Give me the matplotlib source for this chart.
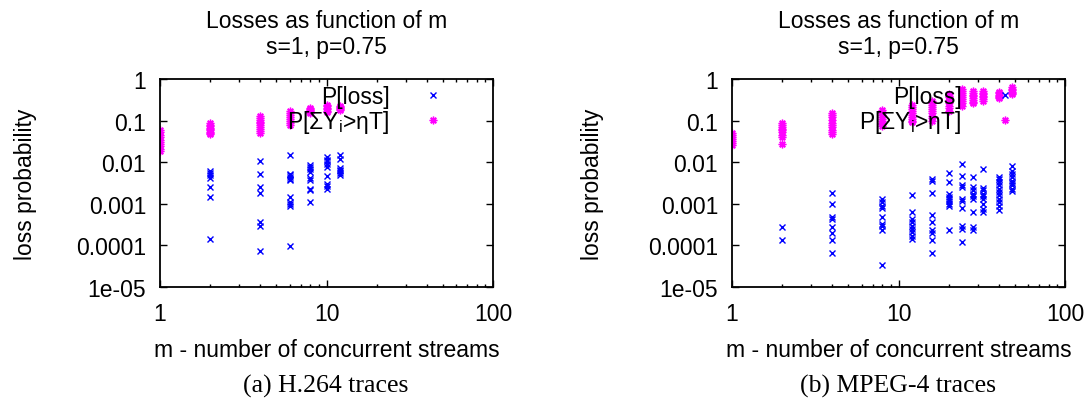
import matplotlib
matplotlib.use("Agg")
import matplotlib.pyplot as plt
from matplotlib.ticker import LogLocator, NullFormatter

plt.rcParams['font.family'] = ['Liberation Sans', 'DejaVu Sans']
plt.rcParams['mathtext.fontset'] = 'custom'
plt.rcParams['mathtext.rm'] = 'Liberation Sans'
plt.rcParams['mathtext.it'] = 'Liberation Sans'

# ---------------- data ----------------
h264_m = [1, 2, 4, 6, 8, 10, 12]
h264_loss = [
    [],
    [0.0063, 0.0056, 0.0048, 0.0042, 0.0025, 0.00145, 0.000145],
    [0.0105, 0.0052, 0.0025, 0.0018, 0.00036, 0.00029, 0.000073],
    [0.0145, 0.0053, 0.0048, 0.0044, 0.004, 0.0037, 0.00145, 0.0011, 0.001, 0.00091, 0.000097],
    [0.0087, 0.0076, 0.0069, 0.0058, 0.0042, 0.0037, 0.0023, 0.0021, 0.0011],
    [0.0132, 0.0116, 0.0105, 0.0092, 0.0076, 0.0047, 0.003, 0.0027, 0.0023],
    [0.015, 0.012, 0.0072, 0.0066, 0.006, 0.0055, 0.0048],
]
h264_sum = [
    [0.06, 0.052, 0.045, 0.04, 0.035, 0.03, 0.027, 0.024, 0.021, 0.019],
    [0.088, 0.08, 0.074, 0.068, 0.063, 0.058, 0.054, 0.05, 0.047],
    [0.13, 0.118, 0.105, 0.095, 0.087, 0.078, 0.07, 0.063, 0.056, 0.05],
    [0.17, 0.155, 0.14, 0.125, 0.11, 0.1, 0.09, 0.08],
    [0.2, 0.19, 0.18, 0.17, 0.16, 0.15],
    [0.24, 0.22, 0.2, 0.185, 0.17, 0.157],
    [0.23, 0.215, 0.2, 0.19, 0.18],
]

mpeg4_m = [1, 2, 4, 8, 12, 16, 20, 24, 28, 32, 40, 48]
mpeg4_loss = [
    [],
    [0.00027, 0.000133],
    [0.00185, 0.001, 0.00048, 0.00043, 0.00027, 0.0002, 0.000133, 0.000066],
    [0.0013, 0.0011, 0.00089, 0.00079, 0.00048, 0.00033, 0.0003, 0.00024, 0.000033],
    [0.0016, 0.00063, 0.00044, 0.00037, 0.0003, 0.00025, 0.00021, 0.00017, 0.000145],
    [0.004, 0.0036, 0.00185, 0.00053, 0.00037, 0.00023, 0.0002, 0.000133, 0.000067],
    [0.0055, 0.0033, 0.0017, 0.00145, 0.0013, 0.00115, 0.001, 0.00087, 0.00023],
    [0.0091, 0.0047, 0.0028, 0.0025, 0.0013, 0.0012, 0.00081, 0.0003, 0.00025, 0.00012],
    [0.0044, 0.0025, 0.0021, 0.0017, 0.0015, 0.0013, 0.00063, 0.00028, 0.00023],
    [0.0069, 0.0024, 0.0021, 0.0017, 0.0015, 0.0013, 0.00097, 0.00074, 0.00063],
    [0.0044, 0.0039, 0.0033, 0.0028, 0.0023, 0.0019, 0.0016, 0.0013, 0.0011, 0.00089, 0.0007],
    [0.0081, 0.0063, 0.0053, 0.0044, 0.0036, 0.0032, 0.0028, 0.0023, 0.002],
]
mpeg4_sum = [
    [0.05, 0.045, 0.04, 0.036, 0.032, 0.029, 0.026],
    [0.09, 0.08, 0.072, 0.064, 0.058, 0.052, 0.046, 0.041, 0.027],
    [0.15, 0.135, 0.12, 0.105, 0.09, 0.08, 0.07, 0.06, 0.053, 0.048],
    [0.18, 0.165, 0.15, 0.135, 0.12, 0.11, 0.1, 0.09, 0.083, 0.076],
    [0.24, 0.21, 0.19, 0.17, 0.15, 0.135, 0.12, 0.11, 0.1, 0.091],
    [0.3, 0.27, 0.24, 0.21, 0.19, 0.17, 0.15, 0.13, 0.115, 0.1],
    [0.44, 0.4, 0.36, 0.32, 0.29, 0.26, 0.23, 0.2, 0.17],
    [0.58, 0.52, 0.46, 0.41, 0.37, 0.33, 0.29, 0.26, 0.23],
    [0.52, 0.47, 0.42, 0.38, 0.34, 0.31, 0.28, 0.26],
    [0.52, 0.47, 0.43, 0.39, 0.36, 0.33, 0.3],
    [0.5, 0.46, 0.42, 0.39, 0.37, 0.35],
    [0.63, 0.58, 0.54, 0.5, 0.47, 0.44],
]

title_text = "Losses as function of m\ns=1, p=0.75"
xlabel_text = "m - number of concurrent streams"
ylabel_text = "loss probability"
legend_labels = ["P[loss]", r"P[ΣY$_\mathregular{i}$>ηT]"]
captions = ["(a) H.264 traces", "(b) MPEG-4 traces"]
y_ticks = [1e-5, 1e-4, 1e-3, 1e-2, 1e-1, 1]
y_ticklabels = ["1e-05", "0.0001", "0.001", "0.01", "0.1", "1"]
x_ticks = [1, 10, 100]
x_ticklabels = ["1", "10", "100"]

# ---------------- figure ----------------
W, H = 1092, 402
fig = plt.figure(figsize=(W / 100, H / 100), dpi=100)
FS = 16.5


def flatten(ms, lists):
    xs, ys = [], []
    for m, vals in zip(ms, lists):
        for v in vals:
            xs.append(m)
            ys.append(v)
    return xs, ys


panels = [
    (160, h264_m, h264_loss, h264_sum, captions[0], 26),
    (732, mpeg4_m, mpeg4_loss, mpeg4_sum, captions[1], 592),
]

for left_px, ms, loss, sm, cap, ylab_x in panels:
    ax = fig.add_axes([left_px / W, (H - 288) / H, 333 / W, 208 / H])
    lx, ly = flatten(ms, loss)
    sx, sy = flatten(ms, sm)
    ax.plot(lx, ly, linestyle='none', marker='x', color='#0000ff',
            markersize=4.5, markeredgewidth=1.0, label=legend_labels[0])
    ax.plot(sx, sy, linestyle='none', marker=(8, 2, 0), color='#ff00ff',
            markersize=5.5, markeredgewidth=1.0, label=legend_labels[1])
    ax.set_xscale('log')
    ax.set_yscale('log')
    ax.set_xlim(1, 100)
    ax.set_ylim(1e-5, 1)
    ax.set_xticks(x_ticks)
    ax.set_xticklabels(x_ticklabels)
    ax.set_yticks(y_ticks)
    ax.set_yticklabels(y_ticklabels)
    ax.xaxis.set_minor_locator(LogLocator(base=10, subs=range(2, 10)))
    ax.yaxis.set_minor_locator(LogLocator(base=10, subs=range(2, 10)))
    ax.xaxis.set_minor_formatter(NullFormatter())
    ax.yaxis.set_minor_formatter(NullFormatter())
    ax.tick_params(which='both', direction='in', top=True, right=True,
                   width=1.0, colors='black')
    ax.tick_params(which='major', length=5, labelsize=FS)
    ax.tick_params(which='minor', length=2.5)
    ax.tick_params(axis='y', which='major', pad=10)
    ax.tick_params(axis='x', which='major', pad=11)
    for s in ax.spines.values():
        s.set_linewidth(1.3)
    ax.set_xlabel(xlabel_text, fontsize=FS, labelpad=9)
    ax.set_title(title_text, fontsize=FS, pad=19, linespacing=1.15)
    fig.text(ylab_x / W, 1 - 184 / H, ylabel_text, rotation=90,
             ha='center', va='center', fontsize=FS)
    leg = ax.legend(loc='upper right', bbox_to_anchor=(0.889, 0.97),
                    frameon=False, markerfirst=False, numpoints=1,
                    fontsize=FS, handlelength=2.0, handletextpad=0.9,
                    labelspacing=0.0, borderpad=0.0, borderaxespad=0.0)
    for t in leg.get_texts():
        t.set_ha('right')
    fig.text((left_px + 166) / W, 1 - 386 / H, cap, ha='center', va='center',
             fontsize=18.5, family=['Liberation Serif', 'DejaVu Serif'])

fig.savefig("out.png", dpi=100)
